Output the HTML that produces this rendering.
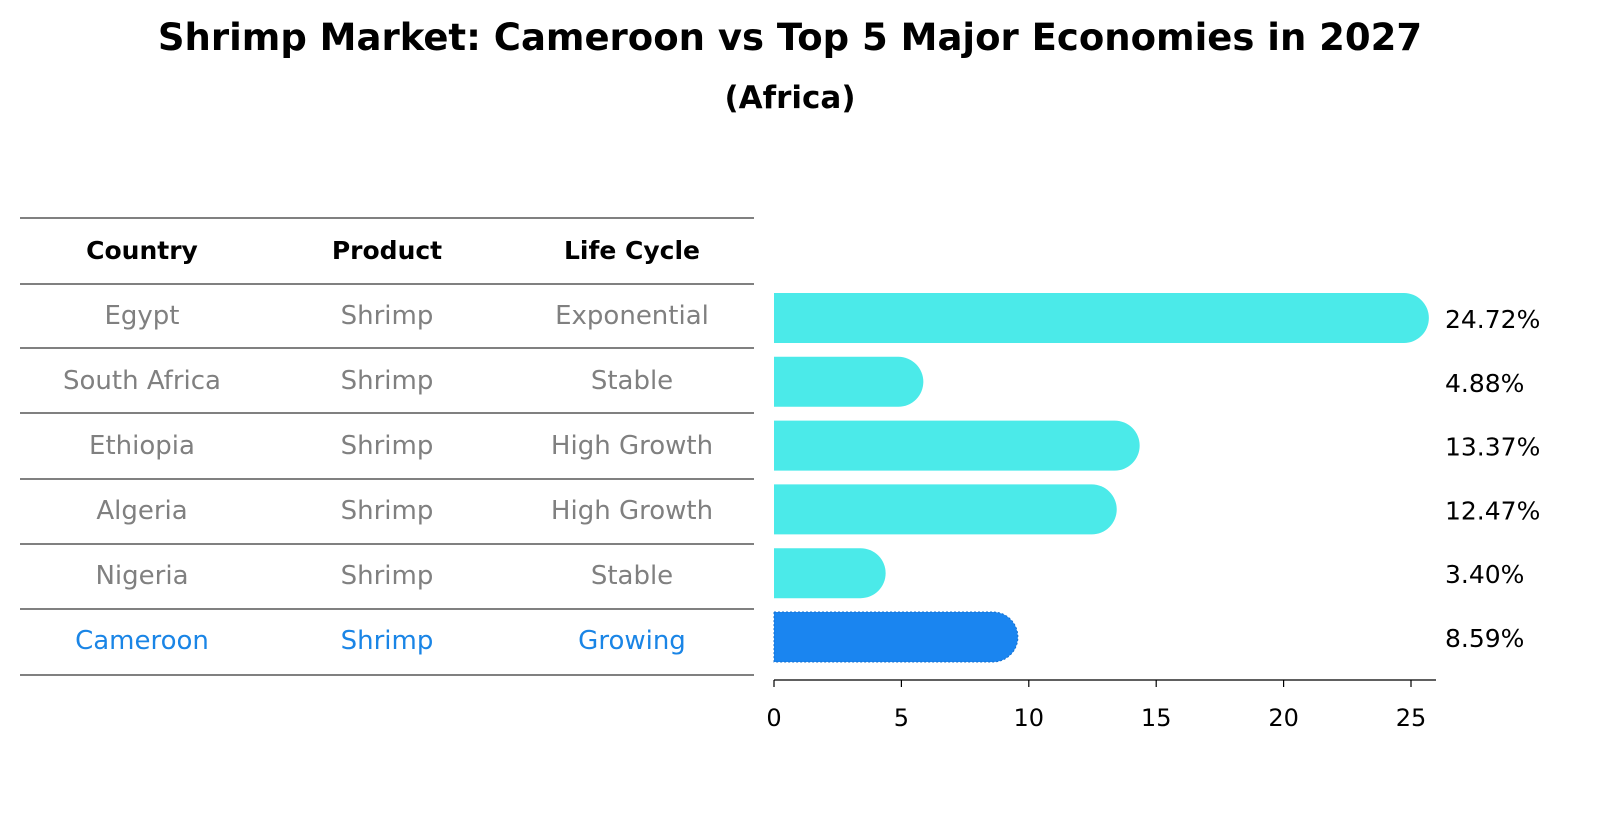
<!DOCTYPE html>
<html><head><meta charset="utf-8"><style>
body{margin:0;background:#fff;width:1604px;height:823px;overflow:hidden;font-family:"Liberation Sans","DejaVu Sans",sans-serif}
</style></head><body>
<svg width="1604" height="823" xmlns="http://www.w3.org/2000/svg" font-family="DejaVu Sans, Liberation Sans, sans-serif">
<text x="790" y="50" text-anchor="middle" font-size="37" font-weight="bold">Shrimp Market: Cameroon vs Top 5 Major Economies in 2027</text>
<text x="790" y="108" text-anchor="middle" font-size="31" font-weight="bold">(Africa)</text>
<g id="table"></g>
<g id="bars"></g>
</svg>
<script>
const countries=["Egypt","South Africa","Ethiopia","Algeria","Nigeria","Cameroon"];
const products=["Shrimp","Shrimp","Shrimp","Shrimp","Shrimp","Shrimp"];
const lifecycles=["Exponential","Stable","High Growth","High Growth","Stable","Growing"];
const values=[24.72,4.88,13.37,12.47,3.40,8.59];
const ticks=[0,5,10,15,20,25];
const NS="http://www.w3.org/2000/svg";
function mk(p,t,a,txt){const e=document.createElementNS(NS,t);for(const k in a)e.setAttribute(k,a[k]);if(txt!==undefined)e.textContent=txt;p.appendChild(e);return e;}
const x=v=>774+v*25.48;
const rowY=i=>318+i*63.8;
const tb=document.getElementById('table');
const lines=[218,284,348,413,479,544,609,675];
lines.forEach((ly,i)=>{const l=mk(tb,'line',{x1:20,x2:754,y1:ly,y2:ly,stroke:'#000','stroke-width':1});

});
const cx=[142,387,632];
["Country","Product","Life Cycle"].forEach((h,j)=>{const t=mk(tb,'text',{x:cx[j],y:259,'text-anchor':'middle','font-size':25,'font-weight':'bold'},h);

});
const tableRowY=[315,380,445,510,575,640];
countries.forEach((c,i)=>{const col=i===5?'#1a85e6':'#808080';
[c,products[i],lifecycles[i]].forEach((s,j)=>{const t=mk(tb,'text',{x:cx[j],y:tableRowY[i]+9,'text-anchor':'middle','font-size':26,fill:col},s);

});});
const bg=document.getElementById('bars');
const h=50,r=25;
values.forEach((v,i)=>{const y0=rowY(i)-h/2,x0=x(0),x1=x(v);
const d=`M${x0},${y0} H${x1} A${r},${r} 0 0 1 ${x1},${y0+h} H${x0} Z`;
const last=i===5;
const p=mk(bg,'path',{d:d,fill:last?'#1a85f0':'#4beae9',stroke:last?'#1570d0':'none','stroke-dasharray':last?'2,2':'none','stroke-width':1});


const t=mk(bg,'text',{x:1445,y:rowY(i)+10,'font-size':25},v.toFixed(2)+'%');

});
const ax=mk(bg,'line',{x1:774,x2:1436,y1:680,y2:680,stroke:'#000','stroke-width':1.3});


ticks.forEach(tv=>{const tl=mk(bg,'line',{x1:x(tv),x2:x(tv),y1:680,y2:687,stroke:'#000','stroke-width':1.2});


const t=mk(bg,'text',{x:x(tv),y:726,'text-anchor':'middle','font-size':24},String(tv));

});
</script>
</body></html>
